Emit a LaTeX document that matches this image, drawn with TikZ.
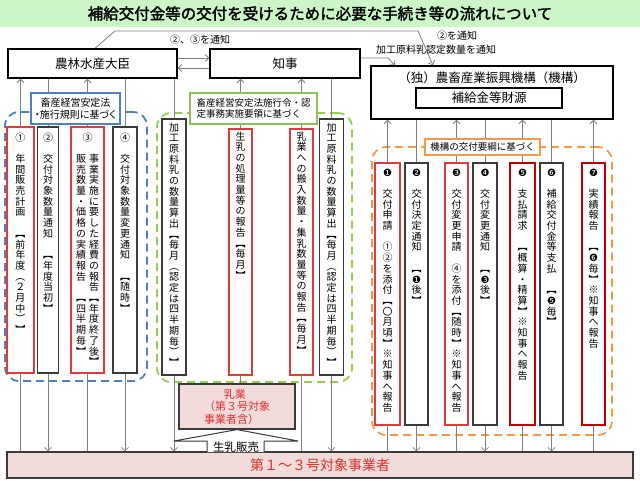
\documentclass[tikz,border=0pt]{standalone}
\usepackage{fontspec}
\setmainfont{Noto Sans CJK JP}[AutoFakeBold=2]
\newfontfamily\djv{DejaVu Sans}
\usetikzlibrary{arrows.meta}
\definecolor{tband}{HTML}{CCF5C8}
\definecolor{gblue}{HTML}{4F81BD}
\definecolor{ggreen}{HTML}{92D050}
\definecolor{glabel}{HTML}{8FC15A}
\definecolor{gorange}{HTML}{F79646}
\definecolor{rthin}{HTML}{E03A3A}
\definecolor{rthick}{HTML}{C00000}
\definecolor{kbord}{HTML}{3A3A3A}
\definecolor{pinkf}{HTML}{F2DCDB}
\definecolor{rtext}{HTML}{E0302A}
\definecolor{lgray}{HTML}{808080}
\newlength\vp \setlength\vp{10.7pt}
\def\vtend{\vtend}
\def\blk{}
\def\nA{{\djv ❶}}\def\nB{{\djv ❷}}\def\nC{{\djv ❸}}\def\nD{{\djv ❹}}
\def\nE{{\djv ❺}}\def\nF{{\djv ❻}}\def\nG{{\djv ❼}}
\newcommand\vt[1]{\vbox{\offinterlineskip\vtloop#1\vtend}}
\def\vtloop#1{\ifx\vtend#1\else\vbox to\vp{\vss\hbox to 1.1em{\hss\vrule height .88em depth .12em width 0pt\relax#1\hss}\vss}\expandafter\vtloop\fi}
\pgfdeclarelayer{bbg}\pgfdeclarelayer{bg}\pgfsetlayers{bbg,bg,main}
\tikzset{
 tb/.style={draw=black, line width=1.3pt, fill=white, inner sep=0pt, font=\fontsize{12.5}{14}\selectfont},
 rb/.style={draw=rthin, line width=1.2pt, fill=white, inner sep=0pt},
 rbk/.style={draw=rthick, line width=2pt, fill=white, inner sep=0pt},
 kb/.style={draw=kbord, line width=1.5pt, fill=white, inner sep=0pt},
 vtx/.style={inner sep=0pt, anchor=north, font=\fontsize{10}{10.7}\selectfont},
 ln/.style={draw=lgray, line width=0.8pt},
 grp/.style={dash pattern=on 8pt off 5pt, line width=1.8pt, rounded corners=14pt, inner sep=0pt},
 lab/.style={inner sep=0pt, fill=white, line width=1.6pt, font=\fontsize{9.5}{11.5}\selectfont},
 note/.style={inner sep=0pt, font=\fontsize{10}{12}\selectfont},
 pk/.style={draw=kbord, line width=1.2pt, fill=pinkf, inner sep=0pt, text=rtext},
}
\begin{document}
\begin{tikzpicture}[x=1pt,y=-1pt,>={Straight Barb[length=3.5pt,width=7pt]}]
\useasboundingbox (0,0) rectangle (640,480);
\node[fill=tband, minimum width=640pt, minimum height=27pt, inner sep=0pt, font=\bfseries\fontsize{15.5}{17}\selectfont] (title) at (320,13.5) {補給交付金等の交付を受けるために必要な手続き等の流れについて};
% top boxes
\node[tb, minimum width=169pt, minimum height=29pt] (daijin) at (92.5,63.5) {農林水産大臣};
\node[tb, minimum width=150pt, minimum height=29pt] (chiji) at (285,63.5) {知事};
\node[tb, minimum width=242pt, minimum height=53pt] (kiko) at (492,92.5) {};
\node[inner sep=0pt, font=\fontsize{12.5}{14}\selectfont] (kikot) at (492,78) {（独）農畜産業振興機構（機構）};
\node[tb, minimum width=146pt, minimum height=20pt] (zaigen) at (489,98) {補給金等財源};
% groups
\begin{pgfonlayer}{bbg}
\node[grp, draw=gblue, minimum width=142pt, minimum height=269pt] (gb) at (76,246.5) {};
\node[grp, draw=ggreen, minimum width=195pt, minimum height=269pt] (gg) at (254.5,247.5) {};
\node[grp, draw=gorange, minimum width=240pt, minimum height=288pt] (go) at (492,291) {};
\end{pgfonlayer}
% left boxes
\node[rb, minimum width=27pt, minimum height=246pt] (b1) at (20.5,250) {};
\node[kb, minimum width=21pt, minimum height=246pt] (b2) at (48,250) {};
\node[rb, minimum width=33pt, minimum height=246pt] (b3) at (87.5,250) {};
\node[kb, minimum width=24pt, minimum height=246pt] (b4) at (125,250) {};
\node[vtx] (t1) at (20.5,131.65) {\vt{①\blk 年間販売計画\blk ︻前年度︵２月中︶︼}};
\node[vtx] (t2) at (48,131.65) {\vt{②\blk 交付対象数量通知\blk ︻年度当初︼}};
\node[vtx] (t3) at (87.5,131.65) {\vt{③}};
\node[vtx] (t3a) at (94,153.05) {\vt{事業実施に要した経費の報告︻年度終了後︼}};
\node[vtx] (t3b) at (81,153.05) {\vt{販売数量・価格の実績報告\blk ︻四半期毎︼}};
\node[vtx] (t4) at (125,131.65) {\vt{④\blk 交付対象数量変更通知\blk ︻随時︼}};
% middle boxes
\node[kb, minimum width=24pt, minimum height=256pt] (kl) at (174,247) {};
\node[rb, minimum width=23pt, minimum height=246pt] (sn) at (240.5,252) {};
\node[rb, minimum width=23pt, minimum height=246pt] (hn) at (301.5,252) {};
\node[kb, minimum width=24pt, minimum height=256pt] (kr) at (331.5,247) {};
\node[vtx] (tkl) at (174,121.65) {\vt{加工原料乳の数量算出︻毎月︵認定は四半期毎︶︼}};
\node[vtx] (tsn) at (240.5,130.65) {\vt{生乳の処理量等の報告︻毎月︼}};
\node[vtx] (thn) at (301.5,130.65) {\vt{乳業への搬入数量・集乳数量等の報告︻毎月︼}};
\node[vtx] (tkr) at (331.5,121.65) {\vt{加工原料乳の数量算出︻毎月︵認定は四半期毎︶︼}};
% right boxes
\node[rb, minimum width=25pt, minimum height=262pt] (r1) at (387.5,294) {};
\node[kb, minimum width=23pt, minimum height=262pt] (r2) at (416.5,294) {};
\node[rb, minimum width=23pt, minimum height=262pt] (r3) at (456.5,294) {};
\node[kb, minimum width=24pt, minimum height=262pt] (r4) at (485,294) {};
\node[rbk, minimum width=25pt, minimum height=262pt] (r5) at (522.5,294) {};
\node[kb, minimum width=23pt, minimum height=262pt] (r6) at (551.5,294) {};
\node[rbk, minimum width=23pt, minimum height=262pt] (r7) at (593.5,294) {};
\node[vtx] (tr1) at (387.5,166.65) {\vt{\nA\blk 交付申請\blk ①②を添付︻〇月頃︼※知事へ報告}};
\node[vtx] (tr2) at (416.5,166.65) {\vt{\nB\blk 交付決定通知\blk ︻\nA 後︼}};
\node[vtx] (tr3) at (456.5,166.65) {\vt{\nC\blk 交付変更申請\blk ④を添付︻随時︼※知事へ報告}};
\node[vtx] (tr4) at (485,166.65) {\vt{\nD\blk 交付変更通知\blk ︻\nC 後︼}};
\node[vtx] (tr5) at (522.5,166.65) {\vt{\nE\blk 支払請求\blk ︻概算・精算︼※知事へ報告}};
\node[vtx] (tr6) at (551.5,166.65) {\vt{\nF\blk 補給交付金等支払\blk ︻\nE 毎︼}};
\node[vtx] (tr7) at (593.5,166.65) {\vt{\nG\blk 実績報告\blk ︻\nF 毎︼※知事へ報告}};
% bottom
\node[pk, minimum width=626pt, minimum height=26pt, font=\fontsize{14}{16}\selectfont] (jigyo) at (320,465) {第１～３号対象事業者};
\node[pk, minimum width=116pt, minimum height=45pt, align=left, font=\fontsize{11}{12.5}\selectfont] (nyugyo) at (237,406.5) {\hspace*{1.8em}乳業\\（第３号対象\\事業者含）};
\draw[draw=kbord, line width=1pt, fill=white] (207,452) -- (207,441) -- (174,441) -- (nyugyo.south) -- (298,441) -- (264,441) -- (264,452);
\node[inner sep=0pt, font=\fontsize{11.5}{13}\selectfont] (hanbai) at (236,447) {生乳販売};
% labels
\node[lab, draw=gblue, minimum width=89pt, minimum height=31pt, align=center, font=\addfontfeature{RawFeature=+palt}\fontsize{10}{11.5}\selectfont] (lb) at (75.5,108.5) {畜産経営安定法\\・施行規則に基づく};
\node[lab, draw=glabel, minimum width=127pt, minimum height=31pt, align=left] (lg) at (253.5,108.5) {畜産経営安定法施行令・認\\定事務実施要領に基づく};
\node[lab, draw=gorange, minimum width=115pt, minimum height=16pt] (lo) at (482.5,147) {機構の交付要綱に基づく};
\node[note] (n1) at (200,40) {②、③を通知};
\node[note] (n2) at (457,36) {②を通知};
\node[note] (n3) at (436,50) {加工原料乳認定数量を通知};
\coordinate (c1) at (115,31);
\coordinate (c2) at (418,31);
\coordinate (c3) at (433,0);
\coordinate (c4) at (388,58);
\coordinate (c5) at (395,0);
\begin{pgfonlayer}{bg}
\draw[ln,<-] (daijin.south -| b1) -- (jigyo.north -| b1);
\draw[ln,->] (daijin.south -| b2) -- (jigyo.north -| b2);
\draw[ln,<-] (daijin.south -| b3) -- (jigyo.north -| b3);
\draw[ln,->] (daijin.south -| b4) -- (jigyo.north -| b4);
\draw[ln,->] (daijin.south -| kl) -- (jigyo.north -| kl);
\draw[ln,<-] (chiji.south -| sn) -- (nyugyo.north -| sn);
\draw[ln,<-] (chiji.south -| hn) -- (jigyo.north -| hn);
\draw[ln,->] (chiji.south -| kr) -- (jigyo.north -| kr);
\draw[ln,<-] (kiko.south -| r1) -- (jigyo.north -| r1);
\draw[ln,->] (kiko.south -| r2) -- (jigyo.north -| r2);
\draw[ln,<-] (kiko.south -| r3) -- (jigyo.north -| r3);
\draw[ln,->] (kiko.south -| r4) -- (jigyo.north -| r4);
\draw[ln,<-] (kiko.south -| r5) -- (jigyo.north -| r5);
\draw[ln,->] (kiko.south -| r6) -- (jigyo.north -| r6);
\draw[ln,<-] (kiko.south -| r7) -- (jigyo.north -| r7);
\draw[ln,->] ([yshift=5.5pt]daijin.east) -- ([yshift=5.5pt]chiji.west);
\draw[ln,<-] ([yshift=-4.5pt]daijin.east) -- ([yshift=-4.5pt]chiji.west);
\draw[ln,->] ([xshift=2.5pt]daijin.north) -- (c1) -- (c2) -- (kiko.north -| c3);
\draw[ln,->] ([yshift=5.5pt]chiji.east) -- (c4) -- (kiko.north -| c5);
\end{pgfonlayer}
\end{tikzpicture}
\end{document}
